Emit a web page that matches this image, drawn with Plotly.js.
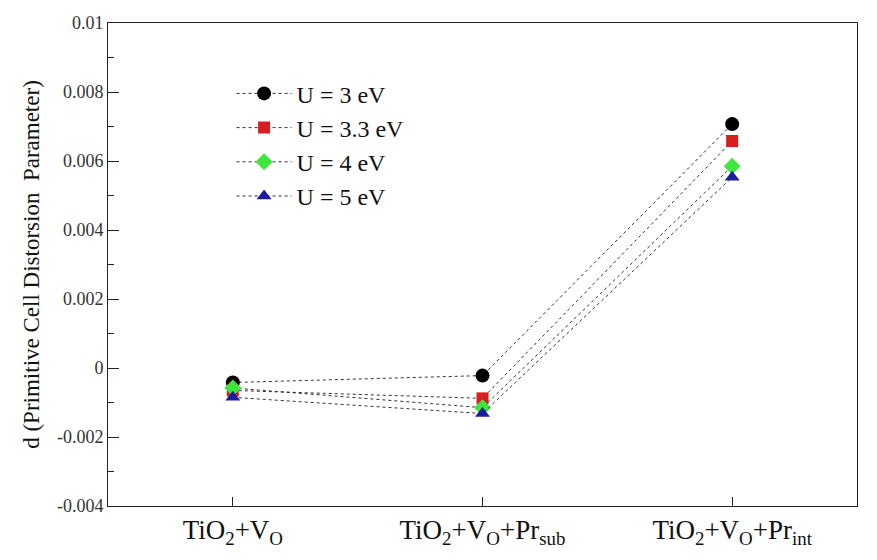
<!DOCTYPE html>
<html>
<head>
<meta charset="utf-8">
<script src="https://cdn.plot.ly/plotly-3.0.1.min.js"></script>
<style>html,body{margin:0;padding:0;background:#fff;}#chart{width:877px;height:560px;}</style>
</head>
<body>
<div id="chart"></div>
<script>
var categories = [0, 1, 2];
var categoryLabels = ["TiO<sub>2</sub>+V<sub>O</sub>", "TiO<sub>2</sub>+V<sub>O</sub>+Pr<sub>sub</sub>", "TiO<sub>2</sub>+V<sub>O</sub>+Pr<sub>int</sub>"];
var seriesNames = ["U = 3 eV", "U = 3.3 eV", "U = 4 eV", "U = 5 eV"];
var u3 = [-0.00042, -0.00022, 0.00707];
var u33 = [-0.00065, -0.00088, 0.00658];
var u4 = [-0.00058, -0.00115, 0.00585];
var u5 = [-0.00085, -0.00132, 0.00553];
var yTickVals = [-0.004, -0.002, 0, 0.002, 0.004, 0.006, 0.008, 0.01];
var yTickText = ["-0.004", "-0.002", "0", "0.002", "0.004", "0.006", "0.008", "0.01"];

var styles = [
  {color: "#000000", symbol: "circle", size: 14},
  {color: "#d81e1e", symbol: "square", size: 12},
  {color: "#3ee63e", symbol: "diamond", size: 13},
  {color: "#1c1ca0", symbol: "triangle-up", size: 13}
];
var allSeries = [u3, u33, u4, u5];
var traces = allSeries.map(function (vals, i) {
  return {
    x: categories, y: vals, name: seriesNames[i], type: "scatter", mode: "lines+markers",
    line: {color: "#333333", width: 1, dash: "dot"},
    marker: {color: styles[i].color, symbol: styles[i].symbol, size: styles[i].size, line: {width: 0}}
  };
});

var serif = "'Liberation Serif', 'Times New Roman', 'DejaVu Serif', serif";
var layout = {
  width: 877, height: 560,
  margin: {l: 108, r: 20, t: 23, b: 54},
  paper_bgcolor: "#fff", plot_bgcolor: "#fff",
  font: {family: serif, color: "#111"},
  showlegend: true,
  legend: {x: 0.165, y: 0.9, xanchor: "left", yanchor: "top", itemwidth: 55, font: {family: serif, size: 24, color: "#111"}, bgcolor: "rgba(0,0,0,0)", tracegroupgap: 0},
  xaxis: {
    range: [-0.5, 2.5], tickvals: categories, ticktext: categoryLabels,
    showgrid: false, zeroline: false, showline: true, linecolor: "#222", linewidth: 1, mirror: true,
    ticks: "inside", ticklen: 9, tickcolor: "#222",
    tickfont: {family: serif, size: 27, color: "#111"}
  },
  yaxis: {
    range: [-0.004, 0.01], tickvals: yTickVals, ticktext: yTickText,
    showgrid: false, zeroline: false, showline: true, linecolor: "#222", linewidth: 1, mirror: true,
    ticks: "inside", ticklen: 11, tickcolor: "#222",
    minor: {dtick: 0.001, tick0: 0, ticks: "inside", ticklen: 6, tickcolor: "#222", showgrid: false},
    tickfont: {family: serif, size: 18, color: "#333"},
    title: {text: "d (Primitive Cell Distorsion  Parameter)", font: {family: serif, size: 23, color: "#111"}, standoff: 10}
  }
};
Plotly.newPlot("chart", traces, layout, {displayModeBar: false, staticPlot: true});
</script>
</body>
</html>
